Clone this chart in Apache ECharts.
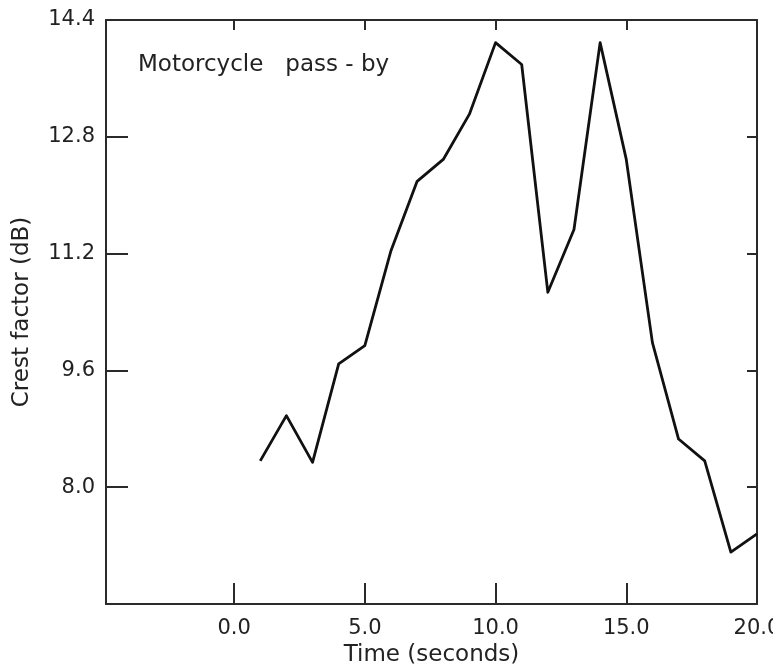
<!DOCTYPE html>
<html>
<head>
<meta charset="utf-8">
<script src="https://cdn.jsdelivr.net/npm/echarts@6/dist/echarts.min.js"></script>
<style>
html,body{margin:0;padding:0;background:#fff;}
#chart{width:773px;height:668px;}
</style>
</head>
<body>
<div id="chart"></div>
<script>
const times = [1, 2, 3, 4, 5, 6, 7, 8, 9, 10, 11, 12, 13, 14, 15, 16, 17, 18, 19, 20];
const crest = [8.36, 8.98, 8.34, 9.69, 9.94, 11.24, 12.19, 12.49, 13.11, 14.09, 13.79, 10.67, 11.53, 14.09, 12.49, 9.98, 8.66, 8.36, 7.11, 7.36];
const xTickValues = [0, 5, 10, 15, 20];
const yTickValues = [8.0, 9.6, 11.2, 12.8, 14.4];
const xInnerTicks = [0, 5, 10, 15];
const yInnerTicks = [8.0, 9.6, 11.2, 12.8];
const chartLabel = 'Motorcycle   pass - by';
const xName = 'Time (seconds)';
const yName = 'Crest factor (dB)';

const FONT = 'DejaVu Sans';
const INK = '#222';
const chart = echarts.init(document.getElementById('chart'), null, {renderer: 'canvas'});
const axisLine = {show: true, onZero: false, lineStyle: {color: '#2a2a2a', width: 2}};
chart.setOption({
  backgroundColor: '#fff',
  animation: false,
  grid: {left: 106, right: 16, top: 20, bottom: 64, containLabel: false, outerBoundsMode: 'none'},
  graphic: [{
    type: 'text', left: 138, top: 54,
    style: {text: chartLabel, font: '23px "DejaVu Sans"', fill: INK}
  }],
  xAxis: [{
    type: 'value', position: 'bottom', min: -4.9, max: 20,
    axisLine: axisLine,
    splitLine: {show: false},
    axisTick: {show: true, inside: true, length: 21, lineStyle: {color: '#2a2a2a', width: 2}, customValues: xInnerTicks},
    axisLabel: {customValues: xTickValues, formatter: v => v.toFixed(1), fontFamily: FONT, fontSize: 21, color: INK, margin: 14},
    name: xName, nameLocation: 'middle', nameGap: 38,
    nameTextStyle: {fontFamily: FONT, fontSize: 23, color: INK}
  }, {
    type: 'value', position: 'top', min: -4.9, max: 20,
    axisLine: axisLine,
    splitLine: {show: false},
    axisTick: {show: true, inside: true, length: 10, lineStyle: {color: '#2a2a2a', width: 2}, customValues: xInnerTicks},
    axisLabel: {show: false}
  }],
  yAxis: [{
    type: 'value', position: 'left', min: 6.4, max: 14.4,
    axisLine: axisLine,
    splitLine: {show: false},
    axisTick: {show: true, inside: true, length: 22, lineStyle: {color: '#2a2a2a', width: 2}, customValues: yInnerTicks},
    axisLabel: {customValues: yTickValues, formatter: v => v.toFixed(1), fontFamily: FONT, fontSize: 21, color: INK, margin: 11},
    name: yName, nameLocation: 'middle', nameGap: 72, nameRotate: 90,
    nameTextStyle: {fontFamily: FONT, fontSize: 23, color: INK}
  }, {
    type: 'value', position: 'right', min: 6.4, max: 14.4,
    axisLine: axisLine,
    splitLine: {show: false},
    axisTick: {show: true, inside: true, length: 10, lineStyle: {color: '#2a2a2a', width: 2}, customValues: yInnerTicks},
    axisLabel: {show: false}
  }],
  series: [{
    type: 'line',
    xAxisIndex: 0, yAxisIndex: 0,
    data: times.map((t, i) => [t, crest[i]]),
    showSymbol: false,
    lineStyle: {color: '#111', width: 2.8, join: 'round'},
    silent: true
  }]
});
</script>
</body>
</html>
